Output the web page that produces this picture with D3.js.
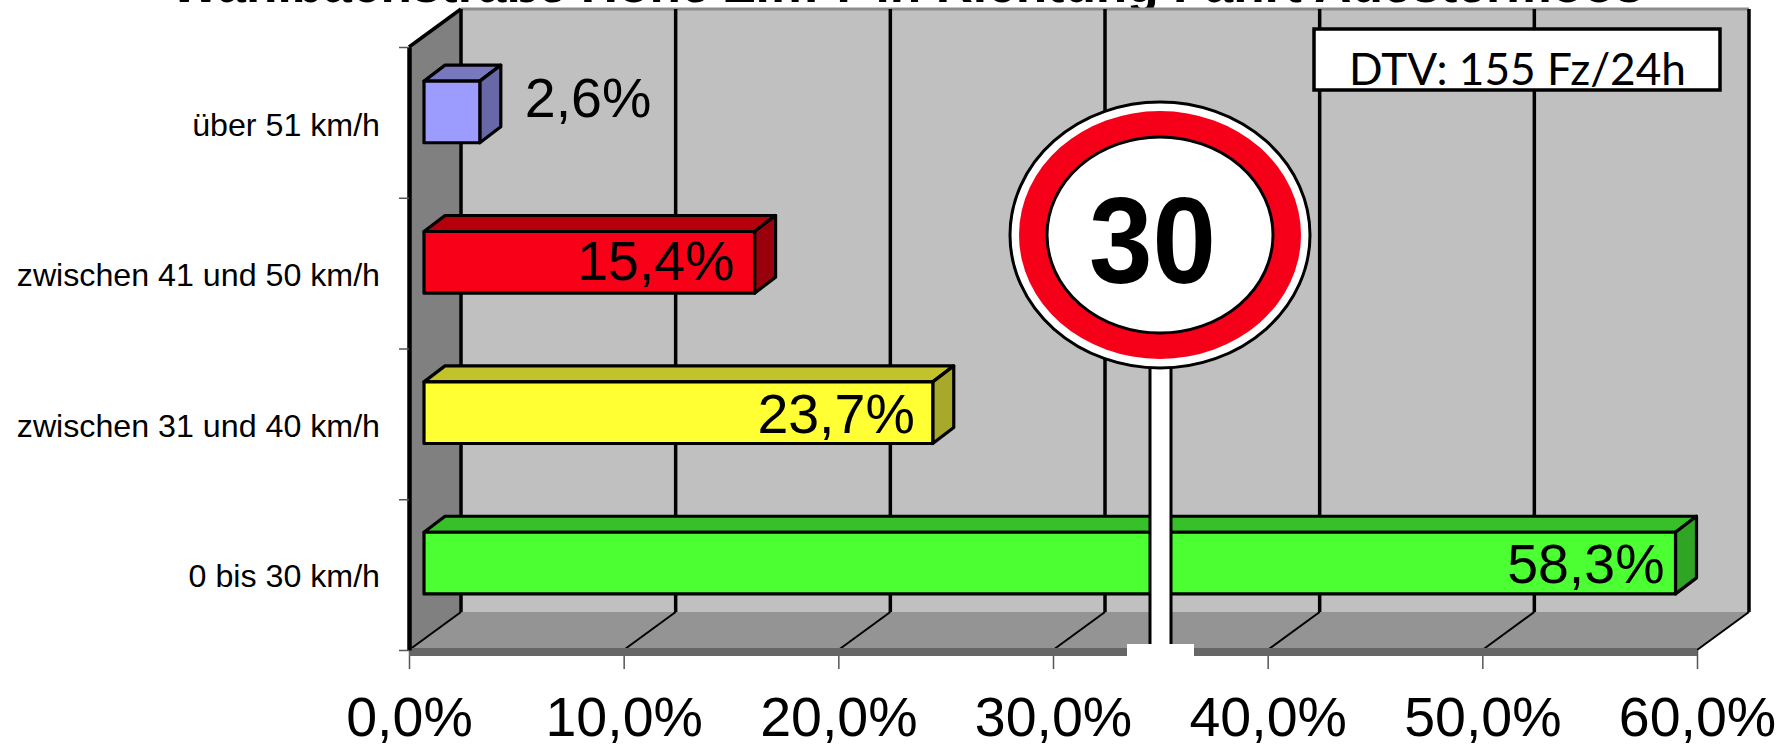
<!DOCTYPE html>
<html lang="de">

<head>
    <meta charset="utf-8">
    <script src='https://d3js.org/d3.v7.min.js'></script>
    <style>
        html, body { margin: 0; padding: 0; background: #fff; overflow: hidden; }
        svg { display: block; }
        text { font-family: "Liberation Sans", Arial, sans-serif; fill: #000; }
    </style>
</head>

<body>

    <script>

        var categories = ["über 51 km/h", "zwischen 41 und 50 km/h", "zwischen 31 und 40 km/h", "0 bis 30 km/h"];
        var values = [2.6, 15.4, 23.7, 58.3];
        var valueLabels = ["2,6%", "15,4%", "23,7%", "58,3%"];
        var xTicks = [0, 10, 20, 30, 40, 50, 60];
        var xTickLabels = ["0,0%", "10,0%", "20,0%", "30,0%", "40,0%", "50,0%", "60,0%"];

        var frontColors = ["#9c9cff", "#f80018", "#ffff33", "#4bff33"];
        var topColors = ["#7878bf", "#b5000c", "#c2c22c", "#38c02a"];
        var sideColors = ["#6868a8", "#9a000c", "#a8a82a", "#30a525"];

        // only the bottom edge of the title survives in the picture, the wording is a guess
        var title = "Wahlbachstraße Höhe Ziff. 7 in Richtung Fahrt Auestermoos";
        var note = "DTV: 155 Fz/24h";
        var signText = "30";

        var width = 1778,
            height = 748;

        var wallX = 52, wallY = 38;   // depth of the 3d box
        var planeX = 15, planeY = 11; // bars stand this far behind the front edge
        var barX = 21, barY = 16;     // depth of a bar

        var x = d3.scaleLinear().domain([0, 60]).range([409, 1697]);
        var y = d3.scaleBand().domain(categories).range([47, 650]).paddingInner(0.59).paddingOuter(0.3);
        var yEdge = d3.scaleLinear().domain([0, 4]).range([47, 650]);

        var svg = d3.select("body").append("svg")
            .attr("width", width)
            .attr("height", height);

        svg.append("text")
            .attr("x", 907)
            .attr("y", 2)
            .attr("text-anchor", "middle")
            .attr("font-weight", "bold")
            .attr("font-size", 51.5)
            .text(title);

        function poly(points, fill) {
            return svg.append("polygon")
                .attr("points", points.map(function (p) { return p.join(","); }).join(" "))
                .attr("fill", fill);
        }

        var x0 = x(0), x1 = x(60), yTop = yEdge(0), yBottom = yEdge(4);

        // back wall, left wall, floor
        poly([[x0 + wallX, yTop - wallY], [x1 + wallX, yTop - wallY], [x1 + wallX, yBottom - wallY], [x0 + wallX, yBottom - wallY]], "#c0c0c0");
        svg.append("line")
            .attr("x1", x0 + wallX).attr("x2", x1 + wallX)
            .attr("y1", yTop - wallY).attr("y2", yTop - wallY)
            .attr("stroke", "#8c8c8c").attr("stroke-width", 3);
        poly([[x0, yTop], [x0 + wallX, yTop - wallY], [x0 + wallX, yBottom - wallY], [x0, yBottom]], "#808080");
        poly([[x0, yBottom], [x0 + wallX, yBottom - wallY], [x1 + wallX, yBottom - wallY], [x1, yBottom]], "#949494");

        // grid: thick on the back wall, thin across the floor
        var grid = svg.append("g").selectAll("g")
            .data(xTicks)
            .enter().append("g")
            .attr("stroke", "#000");
        grid.append("line")
            .attr("x1", function (d) { return x(d) + wallX; })
            .attr("x2", function (d) { return x(d) + wallX; })
            .attr("y1", yTop - wallY)
            .attr("y2", yBottom - wallY)
            .attr("stroke-width", 3.5);
        grid.append("line")
            .attr("x1", function (d) { return x(d) + wallX; })
            .attr("x2", function (d) { return x(d); })
            .attr("y1", yBottom - wallY)
            .attr("y2", yBottom)
            .attr("stroke-width", 2);

        svg.append("line")
            .attr("x1", x0).attr("x2", x0 + wallX)
            .attr("y1", yTop).attr("y2", yTop - wallY)
            .attr("stroke", "#000").attr("stroke-width", 3.5);

        // x axis, the dark band sits over the upper part of the ticks
        var xAxis = svg.append("g")
            .attr("transform", "translate(0," + yBottom + ")")
            .call(d3.axisBottom(x)
                .tickValues(xTicks)
                .tickSize(19)
                .tickFormat(function (d, i) { return xTickLabels[i]; }));
        xAxis.select(".domain").remove();
        xAxis.selectAll(".tick line").attr("stroke", "#555").attr("stroke-width", 1.5);
        xAxis.selectAll(".tick text")
            .attr("y", 86)
            .attr("dy", 0)
            .attr("font-size", 55.5)
            .attr("font-family", "'Liberation Sans', Arial, sans-serif")
            .attr("fill", "#000");

        svg.append("rect")
            .attr("x", x0).attr("y", yBottom - 2)
            .attr("width", x1 - x0).attr("height", 8)
            .attr("fill", "#666");

        // y axis
        var yAxis = svg.append("g")
            .attr("transform", "translate(" + x0 + ",0)")
            .call(d3.axisLeft(yEdge).ticks(4).tickSize(10).tickSizeOuter(0).tickFormat(""));
        yAxis.select(".domain").attr("stroke", "#000").attr("stroke-width", 4.5);
        yAxis.selectAll(".tick line").attr("stroke", "#555").attr("stroke-width", 1.5);

        svg.append("g").selectAll("text")
            .data(categories)
            .enter().append("text")
            .attr("x", 380)
            .attr("y", function (d) { return y(d) + y.bandwidth() / 2 + 13; })
            .attr("text-anchor", "end")
            .attr("font-size", 32.2)
            .attr("fill", "#1a1a1a")
            .text(function (d) { return d; });

        // bars
        var bars = svg.append("g").selectAll("g")
            .data(values)
            .enter().append("g")
            .attr("stroke", "#000")
            .attr("stroke-width", 3.2)
            .attr("stroke-linejoin", "round");

        function barPoints(d, i, kind) {
            var l = x0 + planeX,
                r = x(d) + planeX,
                t = y(categories[i]) - planeY,
                b = t + y.bandwidth();
            var shape = {
                front: [[l, t], [r, t], [r, b], [l, b]],
                top: [[l, t], [l + barX, t - barY], [r + barX, t - barY], [r, t]],
                side: [[r, t], [r + barX, t - barY], [r + barX, b - barY], [r, b]]
            };
            return shape[kind].map(function (p) { return p.join(","); }).join(" ");
        }

        bars.append("polygon")
            .attr("points", function (d, i) { return barPoints(d, i, "top"); })
            .attr("fill", function (d, i) { return topColors[i]; });
        bars.append("polygon")
            .attr("points", function (d, i) { return barPoints(d, i, "side"); })
            .attr("fill", function (d, i) { return sideColors[i]; });
        bars.append("polygon")
            .attr("points", function (d, i) { return barPoints(d, i, "front"); })
            .attr("fill", function (d, i) { return frontColors[i]; });

        // first label sits outside its bar and higher up, the others inside at the right end
        var labelGap = [-45, 20, 18, 11];
        var labelRaise = [15, 2, 0, 0];
        svg.append("g").selectAll("text")
            .data(values)
            .enter().append("text")
            .attr("x", function (d, i) { return x(d) + planeX - labelGap[i]; })
            .attr("y", function (d, i) { return y(categories[i]) - planeY + y.bandwidth() / 2 + 20 - labelRaise[i]; })
            .attr("text-anchor", function (d, i) { return i === 0 ? "start" : "end"; })
            .attr("font-size", 55.5)
            .attr("fill", "#111")
            .text(function (d, i) { return valueLabels[i]; });

        // DTV box
        svg.append("rect")
            .attr("x", 1314).attr("y", 29)
            .attr("width", 406).attr("height", 61)
            .attr("fill", "#fff")
            .attr("stroke", "#000")
            .attr("stroke-width", 3.5);
        svg.append("text")
            .attr("x", 1349)
            .attr("y", 85)
            .attr("font-size", 44)
            .attr("textLength", 337)
            .attr("lengthAdjust", "spacingAndGlyphs")
            .style("font-family", "Lato, sans-serif")
            .text(note);

        // the sign: post first, it breaks through the axis band at the bottom
        svg.append("rect")
            .attr("x", 1127).attr("y", 644)
            .attr("width", 67).attr("height", 30)
            .attr("fill", "#fff");
        svg.append("rect")
            .attr("x", 1150).attr("y", 360)
            .attr("width", 21).attr("height", 284)
            .attr("fill", "#fff");
        svg.append("line")
            .attr("x1", 1150).attr("x2", 1150)
            .attr("y1", 360).attr("y2", 644)
            .attr("stroke", "#000").attr("stroke-width", 3);
        svg.append("line")
            .attr("x1", 1171).attr("x2", 1171)
            .attr("y1", 360).attr("y2", 644)
            .attr("stroke", "#000").attr("stroke-width", 3);

        var sign = svg.append("g").attr("transform", "translate(1160,235)");
        sign.append("ellipse")
            .attr("rx", 150).attr("ry", 133)
            .attr("fill", "#fff")
            .attr("stroke", "#000").attr("stroke-width", 3);
        sign.append("ellipse")
            .attr("rx", 141).attr("ry", 124)
            .attr("fill", "#f50018");
        sign.append("ellipse")
            .attr("rx", 113).attr("ry", 98)
            .attr("fill", "#fff")
            .attr("stroke", "#000").attr("stroke-width", 3);
        sign.append("text")
            .attr("x", -71)
            .attr("y", 48)
            .attr("font-weight", "bold")
            .attr("font-size", 123)
            .attr("textLength", 127)
            .attr("lengthAdjust", "spacingAndGlyphs")
            .text(signText);

    </script>

</body>

</html>
